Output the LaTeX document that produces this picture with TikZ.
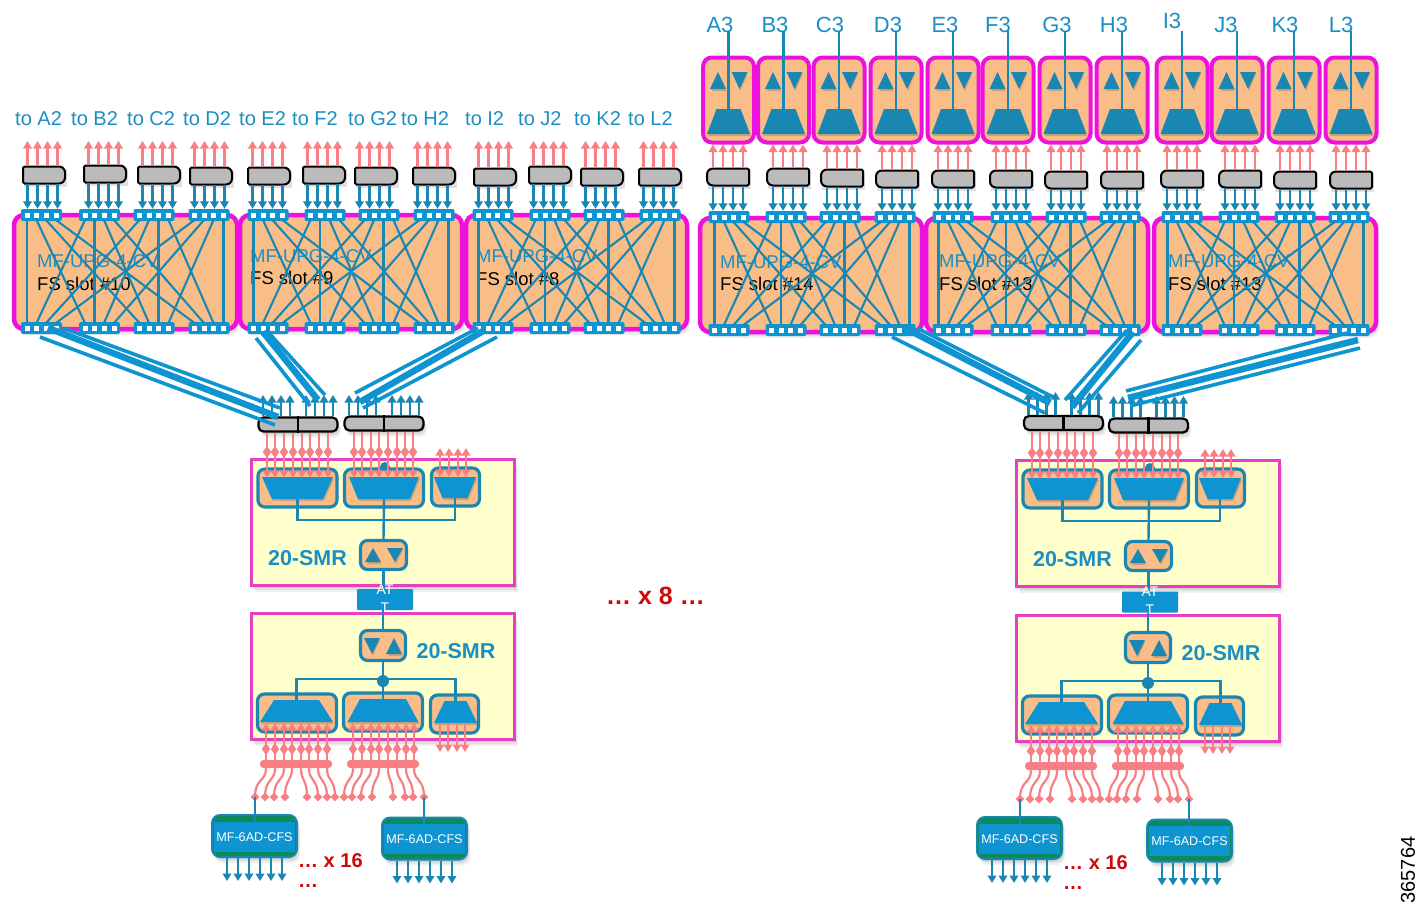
\documentclass[tikz,border=0pt]{standalone}
\usepackage{fontspec}
\setmainfont{Liberation Sans}
\usetikzlibrary{arrows.meta,shadows,shapes.geometric,calc}
\definecolor{bluef}{HTML}{0E94D0}
\definecolor{tealc}{HTML}{1A86B2}
\definecolor{texb}{HTML}{1B8FC4}
\definecolor{salm}{HTML}{F88084}
\definecolor{orangef}{HTML}{F9BE88}
\definecolor{magc}{HTML}{EE11DD}
\definecolor{smrc}{HTML}{E640C0}
\definecolor{yelf}{HTML}{FFFFCC}
\definecolor{grayf}{HTML}{BBBBBB}
\definecolor{greenf}{HTML}{0B8A5A}
\definecolor{redt}{HTML}{CC0A0A}
\newcommand{\fsz}[1]{\fontsize{#1}{#1}\selectfont}
\tikzset{
 softsh/.style={general shadow={fill=black,opacity=.06,shadow xshift=3pt,shadow yshift=-6pt},
                general shadow={fill=black,opacity=.07,shadow xshift=2pt,shadow yshift=-4pt},
                general shadow={fill=black,opacity=.08,shadow xshift=1pt,shadow yshift=-2pt}},
 cardbox/.style={rectangle,draw=magc,line width=4.5pt,fill=orangef,rounded corners=10pt,inner sep=0pt,softsh},
 stripbox/.style={rectangle,fill=bluef,rounded corners=2pt,inner sep=0pt,minimum width=41pt,minimum height=12pt},
 shufl/.style={draw=tealc,line width=2.1pt},
 grayb/.style={draw=black,line width=2pt,fill=grayf},
 hitbox/.style={rectangle,inner sep=0pt,minimum width=42pt,minimum height=17pt},
 bluear/.style={draw=tealc,line width=2.3pt,-{Triangle[width=8.5pt,length=7.5pt]}},
 salar/.style={draw=salm,line width=2.3pt,-{Triangle[width=8.5pt,length=7.5pt]}},
 topbox/.style={rectangle,draw=magc,line width=4pt,fill=orangef,rounded corners=9pt,inner sep=0pt,minimum width=51pt,minimum height=85pt},
 tolabel/.style={font=\fsz{20},text=texb,anchor=west,inner sep=0pt},
 toplab/.style={font=\fsz{22},text=texb,inner sep=0pt},
 mflab/.style={font=\fsz{18.5},text=texb,anchor=west,inner sep=0pt},
 slab/.style={font=\fsz{18.5},text=black,anchor=west,inner sep=0pt},
 muxn/.style={rectangle,draw=black,line width=2.2pt,fill=grayf,rounded corners=5pt,inner sep=0pt,minimum width=79pt,minimum height=14pt,softsh},
 smrbox/.style={rectangle,draw=smrc,line width=2.4pt,fill=yelf,inner sep=0pt,softsh},
 muxbox/.style={rectangle,draw=tealc,line width=3.2pt,fill=orangef,rounded corners=7pt,inner sep=0pt,minimum height=38pt},
 smrlab/.style={font=\bfseries\fsz{21.5},text=texb,inner sep=0pt},
 conn/.style={draw=tealc,line width=2.4pt},
 attbox/.style={rectangle,fill=bluef,rounded corners=1pt,inner sep=0pt,minimum width=56pt,minimum height=21pt},
 mfouter/.style={rectangle,draw=tealc,line width=2pt,fill=greenf,rounded corners=8pt,inner sep=0pt,minimum width=85pt,minimum height=42pt,softsh},
 mfinner/.style={rectangle,fill=bluef,inner sep=0pt,minimum width=81pt,minimum height=30pt,text=white,font=\fsz{12.6}},
 barn/.style={rectangle,fill=salm,rounded corners=3.5pt,inner sep=0pt,minimum width=72pt,minimum height=8pt},
 dmd/.style={diamond,fill=salm,inner sep=0pt,minimum width=9pt,minimum height=9pt},
 redl/.style={font=\bfseries\fsz{20},text=redt,inner sep=0pt},
 bthin/.style={draw=bluef,line width=3.6pt},
 bthick/.style={draw=bluef,line width=6.5pt}
}
% strip: name, x, y
\newcommand{\portstrip}[3]{%
 \node[stripbox] (#1) at (#2,#3) {};
 \foreach \i/\o in {1/-14.5,2/-5,3/4.5,4/14.5} {
  \fill[white] (#2+\o-2.5,#3-2.5) rectangle ++(5,5);
  \coordinate (#1-s\i) at (#2+\o,#3+5);
  \coordinate (#1-n\i) at (#2+\o,#3-5);
 }%
}
% card: name, x0, x1, y0, y1, label x, mf y, fs y, slot
\newcommand{\cardbg}[9]{%
 \node[cardbox,minimum width=#3-#2,minimum height=#5-#4] (#1) at ({(#2+#3)/2},{(#4+#5)/2}) {};
 \node[mflab] (#1mf) at (#6,#7) {MF-UPG-4-CV};
 \node[slab] (#1fs) at (#6,#8) {FS slot \##9};
}
% strips and shuffle: name, top y, bottom y, x1..x4
\newcommand{\cardnet}[7]{%
 \portstrip{#1t1}{#4}{#2}\portstrip{#1t2}{#5}{#2}\portstrip{#1t3}{#6}{#2}\portstrip{#1t4}{#7}{#2}%
 \portstrip{#1b1}{#4}{#3}\portstrip{#1b2}{#5}{#3}\portstrip{#1b3}{#6}{#3}\portstrip{#1b4}{#7}{#3}%
 \foreach \a in {1,2,3,4}{\foreach \b in {1,2,3,4}{\draw[shufl] (#1t\a-s\b) -- (#1b\b-n\a);}}%
}
% gray module: name, cx, cy
\newcommand{\gmodr}[3]{%
 \fill[black,opacity=.12] (#2-20,#3-6) rectangle (#2+23,#3+12);
 \draw[grayb,rounded corners=1.5pt] (#2-21,#3-8.5) [rounded corners=6pt] -- (#2+21,#3-8.5) -- (#2+21,#3+8.5) [rounded corners=1.5pt] -- (#2-21,#3+8.5) -- cycle;
 \node[hitbox] (#1) at (#2,#3) {};
}
\newcommand{\gmodl}[3]{%
 \fill[black,opacity=.12] (#2-20,#3-6) rectangle (#2+23,#3+12);
 \draw[grayb,rounded corners=1.5pt] (#2+21,#3-8.5) [rounded corners=6pt] -- (#2-21,#3-8.5) -- (#2-21,#3+8.5) [rounded corners=1.5pt] -- (#2+21,#3+8.5) -- cycle;
 \node[hitbox] (#1) at (#2,#3) {};
}
\newcommand{\triup}[3]{\fill[black,opacity=.15] (#1-7+1,#3+2) -- (#1+7+1,#3+2) -- (#1+1,#2+2) -- cycle; \fill[tealc] (#1-8,#3) -- (#1+8,#3) -- (#1,#2) -- cycle;}
\newcommand{\tridn}[3]{\fill[black,opacity=.15] (#1-7+1,#2+2) -- (#1+7+1,#2+2) -- (#1+1,#3+2) -- cycle; \fill[tealc] (#1-8,#2) -- (#1+8,#2) -- (#1,#3) -- cycle;}
% trapezoid: name, cx, ytop, ybot, wtop, wbot, colour
\newcommand{\trapz}[7]{%
 \fill[black,opacity=.15] (#2-#5/2+1,#3+2) -- (#2+#5/2+1,#3+2) -- (#2+#6/2+1,#4+2) -- (#2-#6/2+1,#4+2) -- cycle;
 \fill[#7] (#2-#5/2,#3) -- (#2+#5/2,#3) -- (#2+#6/2,#4) -- (#2-#6/2,#4) -- cycle;
 \coordinate (#1-t) at (#2,#3); \coordinate (#1-b) at (#2,#4);
}
\newcommand{\dmnd}[2]{\fill[salm] (#1,#2-6) -- (#1+4.2,#2) -- (#1,#2+6) -- (#1-4.2,#2) -- cycle;}
% mux pair: name, cx, cy, tip y
\newcommand{\muxpair}[4]{%
 \node[muxn] (#1) at (#2,#3) {};
 \draw[draw=black,line width=2.2pt] (#1.north) -- (#1.south);
 \foreach \o in {-35,-26,-17,-8,8,17,26,35}{\draw[bluear] ([xshift=\o pt]#1.north) -- ([xshift=\o pt]#1.north |- 0,#4);}%
}
% upper SMR: prefix, dx, dy, mux a, mux b
\newcommand{\smrupper}[5]{%
 \begin{scope}[shift={(#2,#3)}]
 \node[smrbox,minimum width=263pt,minimum height=126pt] (#1u) at (383,522.5) {};
 \fill[tealc] (385,467) circle (5);
 \node[muxbox,minimum width=79pt] (#1ua) at (297.5,488) {};
 \node[muxbox,minimum width=79pt] (#1ub) at (384,488) {};
 \node[muxbox,minimum width=48pt] (#1uc) at (455.5,487) {};
 \trapz{#1uta}{297.5}{477}{499}{71}{51}{bluef}
 \trapz{#1utb}{384}{477}{499}{70}{52}{bluef}
 \trapz{#1utc}{455}{477}{498}{42}{25}{bluef}
 \node[muxbox,minimum width=46pt,minimum height=29pt] (#1us) at (383.5,555) {};
 \triup{373}{548}{562}
 \tridn{395}{548}{562}
 \coordinate (#1uj) at (384,520);
 \draw[conn] (#1uta-b) |- (#1uj) -| (#1utc-b);
 \draw[conn] (#1utb-b) -- (#1us.north);
 \node[smrlab] (#1ul) at (307.5,558) {20-SMR};
 \foreach \x in {267,275,284,293,302,310,319,328}{\draw[salar] (\x,0 |- #4.south) -- (\x,478); \dmnd{\x}{452}}
 \foreach \x in {354,362,371,379,388,397,405,413}{\draw[salar] (\x,0 |- #5.south) -- (\x,478); \dmnd{\x}{452}}
 \foreach \x in {440,449,458,466}{\draw[salar,{Triangle[width=8.5pt,length=7.5pt]}-{Triangle[width=8.5pt,length=7.5pt]}] (\x,448) -- (\x,477);}
 \end{scope}
}
% lower SMR: prefix, dx, dy
\newcommand{\smrlower}[3]{%
 \begin{scope}[shift={(#2,#3)}]
 \node[smrbox,minimum width=263pt,minimum height=126pt] (#1l) at (383,676.5) {};
 \node[muxbox,minimum width=79pt] (#1la) at (297,713) {};
 \node[muxbox,minimum width=79pt] (#1lb) at (383,712) {};
 \node[muxbox,minimum width=48pt] (#1lc) at (454.5,714) {};
 \trapz{#1lta}{296.5}{700}{722}{45}{73}{bluef}
 \trapz{#1ltb}{383}{699}{722}{46}{71}{bluef}
 \trapz{#1ltc}{455.5}{701}{723}{22}{43}{bluef}
 \node[muxbox,minimum width=45pt,minimum height=30pt] (#1ls) at (383,645.5) {};
 \tridn{372}{638}{654}
 \triup{394}{638}{654}
 \node[circle,fill=tealc,inner sep=0pt,minimum size=12pt] (#1ld) at (383,681) {};
 \coordinate (#1lj) at (383,679);
 \draw[conn] (#1lta-t) |- (#1lj) -| (#1ltc-t);
 \draw[conn] (#1ls.south) -- (#1ld.center) -- (#1ltb-t);
 \node[smrlab] (#1ll) at (456,651) {20-SMR};
 \node[barn] (#1ba) at (296,764) {};
 \node[barn] (#1bb) at (383,764) {};
 \foreach \x/\d [count=\n] in {266/255,275/265,284/274,292/285,301/307,309/318,318/327,327/335}{
  \draw[salar] (\x,0 |- #1ba.north) -- (\x,723); \dmnd{\x}{749}
  \node[dmd] (#1da\n) at (\d,797) {};
  \draw[draw=salm,line width=2.2pt] (\x,0 |- #1ba.south) .. controls (\x,782) and (\d,778) .. (#1da\n.center);
 }
 \foreach \x/\d [count=\n] in {353/344,362/352,371/361,379/372,388/393,397/405,406/413,414/424}{
  \draw[salar] (\x,0 |- #1bb.north) -- (\x,723); \dmnd{\x}{749}
  \node[dmd] (#1db\n) at (\d,797) {};
  \draw[draw=salm,line width=2.2pt] (\x,0 |- #1bb.south) .. controls (\x,782) and (\d,778) .. (#1db\n.center);
 }
 \foreach \x in {440,448,457,465}{\draw[salar] (\x,724) -- (\x,752);}
 \node[mfouter] (#1ma) at (254.5,836) {};
 \node[mfinner] (#1mai) at (254.5,837) {MF-6AD-CFS};
 \node[mfouter] (#1mb) at (424.5,838.5) {};
 \node[mfinner] (#1mbi) at (424.5,839) {MF-6AD-CFS};
 \draw[conn] (#1da1.center) -- (#1da1.center |- #1mai.north);
 \draw[conn] (#1db8.center) -- (#1db8.center |- #1mbi.north);
 \foreach \o in {-27.5,-16.5,-5.5,5.5,16.5,27.5}{
  \draw[bluear] ([xshift=\o pt]#1ma.south) -- ++(0,23);
  \draw[bluear] ([xshift=\o pt]#1mb.south) -- ++(0,23);
 }
 \node[redl,anchor=west] (#1x) at (298,861) {… x 16};
 \node[redl,anchor=west] (#1y) at (298,886) {…};
 \end{scope}
}
% bundle: name, upper start, upper end, mid start, mid end, low start, low end
\newcommand{\bundle}[7]{%
 \coordinate (#1us) at (#2); \coordinate (#1ue) at (#3);
 \coordinate (#1ms) at (#4); \coordinate (#1me) at (#5);
 \coordinate (#1ls) at (#6); \coordinate (#1le) at (#7);
 \draw[bthin] (#1us) -- (#1ue);
 \draw[bthick] (#1ms) -- (#1me);
 \draw[bthin] (#1ls) -- (#1le);
}
\begin{document}
\begin{tikzpicture}[x=1pt,y=-1pt]
\useasboundingbox (0,0) rectangle (1419,913);
\fill[white] (0,0) rectangle (1419,913);

% Line cards
\cardbg{ca}{14}{237}{215}{329}{37}{261}{284}{10}
\cardbg{cb}{240}{462}{215}{329}{250}{256}{278}{9}
\cardbg{cc}{466}{687}{215}{329}{476}{256}{279}{8}
\cardbg{cd}{700}{922}{218}{332}{720}{262}{284}{14}
\cardbg{ce}{926}{1148}{218}{332}{939}{261}{284}{13}
\cardbg{cf}{1154}{1376}{218}{332}{1168}{261}{284}{13}
\cardnet{ca}{215}{328}{41.5}{99.5}{154}{209}
\cardnet{cb}{215}{328}{268}{325}{379}{434}
\cardnet{cc}{215}{328}{493}{550}{604}{660}
\cardnet{cd}{217}{330}{729}{786}{840}{895}
\cardnet{ce}{217}{330}{953}{1011}{1066}{1120}
\cardnet{cf}{217}{330}{1182}{1239}{1295}{1349}

% to-labels
\foreach \t/\lx [count=\i] in {A2/15,B2/71,C2/127,D2/183,E2/239,F2/292,G2/348,H2/401,I2/465,J2/518,K2/574,L2/628}{
 \node[tolabel] (tl\i) at (\lx,119) {to \t};
}

% Gray modules, left group
\foreach \i/\s/\gx/\gy in {1/cat1/44/175,2/cat2/105/174,3/cat3/159/175,4/cat4/211/176,5/cbt1/269/176,6/cbt2/324/175,7/cbt3/376/176,8/cbt4/434/176,9/cct1/495/177,10/cct2/550/175,11/cct3/602/177,12/cct4/660/177}{
 \gmodr{gl\i}{\gx}{\gy}
 \foreach \o in {-16.5,-6.5,3.5,13.5}{
  \draw[bluear] ([xshift=\o pt]gl\i.south) -- ([xshift=\o pt]gl\i.south |- \s.north);
  \coordinate (glt\i) at (\gx,141);
  \draw[salar] ([xshift=\o pt]gl\i.north) -- ([xshift=\o pt]gl\i.north |- glt\i);
 }
}

% Top boxes and gray modules, right group
\foreach \n/\i/\s/\bx/\lbx/\lby/\gx/\gy in {A3/1/cdt1/728.5/720/25/728/177,B3/2/cdt2/783.5/775/25/788/177,C3/3/cdt3/839/830/25/842/178,D3/4/cdt4/896/888/25/897/179,E3/5/cet1/953/945/25/953/179,F3/6/cet2/1008/998/25/1011/179,G3/7/cet3/1065/1057/25/1066/180,H3/8/cet4/1122/1114/25/1122/180,I3/9/cft1/1182/1172/21/1182/179,J3/10/cft2/1237/1226/25/1240/179,K3/11/cft3/1294/1285/25/1295/180,L3/12/cft4/1351/1341/25/1351/180}{
 \node[topbox] (box\i) at (\bx,100) {};
 \node[toplab] (lab\i) at (\lbx,\lby) {\n};
 \triup{\bx-10.5}{72}{89}
 \tridn{\bx+11}{72}{89}
 \trapz{tz\i}{\bx}{109}{134}{24}{43}{tealc}
 \coordinate (lt\i) at (\bx,31);
 \draw[conn] (lt\i) -- (tz\i-t);
 \gmodl{gr\i}{\gx}{\gy}
 \foreach \o in {-15,-5,5,15}{
  \draw[bluear] ([xshift=\o pt]gr\i.south) -- ([xshift=\o pt]gr\i.south |- \s.north);
  \draw[salar] ([xshift=\o pt]gr\i.north) -- ([xshift=\o pt]gr\i.north |- box\i.south);
 }
}

% Mux pairs
\muxpair{ma}{298}{424.5}{395}
\muxpair{mb}{384}{423.5}{395}
\muxpair{mc}{1063.5}{423}{392}
\muxpair{md}{1148.5}{425.5}{396}

% SMR stacks
\smrupper{L}{0}{0}{ma}{mb}
\smrupper{R}{765}{1}{mc}{md}
\smrlower{L}{0}{0}
\smrlower{R}{765}{2}

% ATT boxes
\node[attbox] (atl) at (385,599.5) {};
\node[attbox] (atr) at (1150,602) {};
\draw[conn] (Lus.south) -- (Lus.south |- atl.north);
\draw[conn] (Lls.north |- atl.south) -- (Lls.north);
\draw[conn] (Rus.south) -- (Rus.south |- atr.north);
\draw[conn] (Rls.north |- atr.south) -- (Rls.north);
\node[font=\fsz{14},text=white,align=center,inner sep=0pt] (attl) at (385,599) {AT\\[4pt]T};
\node[font=\fsz{14},text=white,align=center,inner sep=0pt] (attr) at (1150,601) {AT\\[4pt]T};

% Fibre bundles
\bundle{ba}{63,328}{280,408}{48,328}{278,417}{40,337}{275,425}
\bundle{bb}{268,332}{325,395}{263,332}{318,400}{256,338}{310,406}
\bundle{bc}{478,328}{355,393}{485,330}{360,402}{497,337}{363,408}
\bundle{bd}{917,328}{1053,397}{903,327}{1050,403}{892,337}{1045,413}
\bundle{be}{1127,330}{1065,400}{1133,332}{1072,407}{1141,340}{1078,413}
\bundle{bf}{1347,333}{1126,391}{1358,340}{1128,398}{1360,348}{1130,406}

% Free texts
\node[font=\bfseries\fsz{25},text=redt,inner sep=0pt] (x8) at (655.5,596) {… x 8 …};
\node[font=\fsz{20},text=black,rotate=90,inner sep=0pt] (fig) at (1408,870) {365764};
\end{tikzpicture}
\end{document}
